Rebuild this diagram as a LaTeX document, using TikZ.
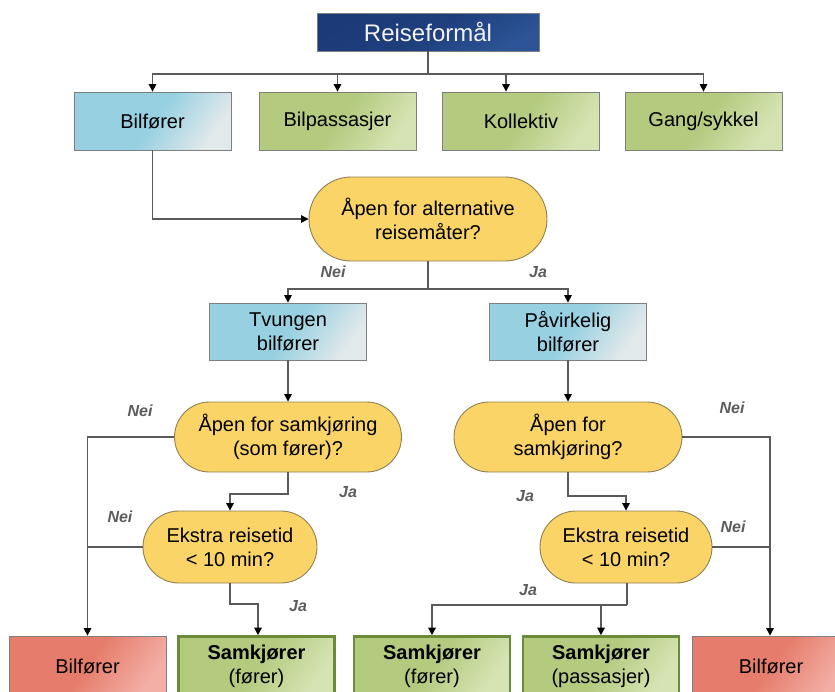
\documentclass[tikz,border=0pt]{standalone}
\usepackage{fontspec}
\setmainfont{Liberation Sans}
\usetikzlibrary{arrows.meta}

\definecolor{linegray}{HTML}{5A5A5A}
\definecolor{boxedge}{HTML}{7F7F7F}
\definecolor{navyA}{HTML}{1C3A78}
\definecolor{navyB}{HTML}{2C5496}
\definecolor{blueA}{HTML}{96D0E1}
\definecolor{blueB}{HTML}{E2E9EB}
\definecolor{greenA}{HTML}{B3CA7F}
\definecolor{greenB}{HTML}{D6E4B3}
\definecolor{greenedge}{HTML}{6A8C3A}
\definecolor{redA}{HTML}{E67D6C}
\definecolor{redB}{HTML}{F3AEA5}
\definecolor{ovalfill}{HTML}{FAD467}
\definecolor{ovaledge}{HTML}{8E8052}
\definecolor{labelgray}{HTML}{5C5C5C}

\tikzset{
  txt/.style={font=\fontsize{20}{24}\selectfont, align=center, text=black},
  titlebox/.style={draw=boxedge, line width=0.8pt, top color=navyA, bottom color=navyB,
    middle color=navyA!85!navyB, shading angle=30, minimum width=222pt, minimum height=38pt,
    font=\fontsize{24}{28}\selectfont, text=white!95!black},
  bluebox/.style={txt, draw=boxedge, line width=0.8pt, top color=blueA, bottom color=blueB,
    middle color=blueA, shading angle=55, minimum width=157pt, minimum height=58pt},
  greenbox/.style={txt, draw=boxedge, line width=0.8pt, top color=greenA, bottom color=greenB,
    middle color=greenA, shading angle=55, minimum width=157pt, minimum height=58pt},
  resultbox/.style={txt, draw=greenedge, line width=2.6pt, top color=greenA, bottom color=greenB,
    middle color=greenA, shading angle=55, minimum width=156pt, minimum height=59pt},
  redbox/.style={txt, draw=boxedge, line width=0.8pt, top color=redA, bottom color=redB,
    middle color=redA, shading angle=55, minimum width=157pt, minimum height=60pt},
  question/.style={txt, draw=ovaledge, line width=0.9pt, fill=ovalfill},
  conn/.style={draw=linegray, line width=1.2pt},
  arr/.style={conn, -{Triangle[width=7.5pt,length=7.5pt,color=black]}},
  answer/.style={font=\fontsize{16}{18}\selectfont\bfseries\itshape, text=labelgray},
}

\begin{document}
\begin{tikzpicture}[x=1pt,y=-1pt]
\path[use as bounding box] (0,0) rectangle (835,691);
\clip (0,0) rectangle (835,691);

% --- top level ---
\node[titlebox] (rf) at (428,32) {Reiseformål};

\node[bluebox]  (b1) at (152.5,121) {Bilfører};
\node[greenbox] (b2) at (337.5,121) {Bilpassasjer};
\node[greenbox] (b3) at (521,121) {Kollektiv};
\node[greenbox] (b4) at (703.5,121) {Gang/sykkel};

\coordinate (bar) at (428,74);
\draw[conn] (rf.south) -- (bar);
\draw[arr] (bar) -| (b1.north);
\draw[arr] (bar) -| (b2.north);
\draw[arr] (bar) -| ([xshift=-15pt]b3.north);
\draw[arr] (bar) -| (b4.north);

% --- first question ---
\node[question, minimum width=238pt, minimum height=84pt, rounded corners=42pt]
  (q1) at (428,219) {Åpen for alternative\\reisemåter?};
\draw[arr] (b1.south) |- (q1.west);

\node[bluebox, minimum height=57pt] (t1) at (288,331.5) {Tvungen\\bilfører};
\node[bluebox, minimum height=57pt] (p1) at (568,331.5) {Påvirkelig\\bilfører};

\coordinate (j1) at (428,289);
\draw[conn] (q1.south) -- (j1);
\draw[arr] (j1) -| (t1.north);
\draw[arr] (j1) -| (p1.north);
\node[answer] (n1) at (333,272) {Nei};
\node[answer] (y1) at (538,272) {Ja};

% --- left branch ---
\node[question, minimum width=227pt, minimum height=70pt, rounded corners=35pt]
  (q2) at (288,437) {Åpen for samkjøring\\(som fører)?};
\draw[arr] (t1.south) -- (q2.north);

\node[question, minimum width=174pt, minimum height=72pt, rounded corners=36pt]
  (e1) at (230,547) {Ekstra reisetid\\< 10 min?};

\node[redbox]    (r1) at (87.5,666) {Bilfører};
\node[resultbox] (s1) at (256.5,666) {\textbf{Samkjører}\\(fører)};

\draw[arr] (q2.west) -| (r1.north);
\draw[conn] (e1.west) -- (r1.north |- e1.west);
\coordinate (j2) at (288,494);
\draw[arr] (q2.south) -- (j2) -| (e1.north);
\coordinate (j3) at (230,604);
\draw[arr] (e1.south) -- (j3) -| ([xshift=1.5pt]s1.north);

\node[answer] (n2) at (140,411) {Nei};
\node[answer] (y2) at (348,492) {Ja};
\node[answer] (n3) at (120,517) {Nei};
\node[answer] (y3) at (298,606) {Ja};

% --- right branch ---
\node[question, minimum width=228pt, minimum height=70pt, rounded corners=35pt]
  (q3) at (568,437) {Åpen for\\samkjøring?};
\draw[arr] (p1.south) -- (q3.north);

\node[question, minimum width=172pt, minimum height=72pt, rounded corners=36pt]
  (e2) at (626,547) {Ekstra reisetid\\< 10 min?};

\node[resultbox] (s2) at (432,666) {\textbf{Samkjører}\\(fører)};
\node[resultbox] (s3) at (601,666) {\textbf{Samkjører}\\(passasjer)};
\node[redbox]    (r2) at (771,666) {Bilfører};

\draw[arr] (q3.east) -| ([xshift=-1pt]r2.north);
\draw[conn] (e2.east) -- ([xshift=-1pt]r2.north |- e2.east);
\coordinate (j4) at (568,496);
\draw[arr] (q3.south) -- (j4) -| (e2.north);
\coordinate (j5) at (627,605);
\draw[conn] (e2.south -| j5) -- (j5);
\draw[arr] (j5) -| (s2.north);
\draw[arr] (j5) -| (s3.north);

\node[answer] (n4) at (732,408) {Nei};
\node[answer] (y4) at (525,496) {Ja};
\node[answer] (n5) at (733,527) {Nei};
\node[answer] (y5) at (528,590) {Ja};
\end{tikzpicture}
\end{document}
